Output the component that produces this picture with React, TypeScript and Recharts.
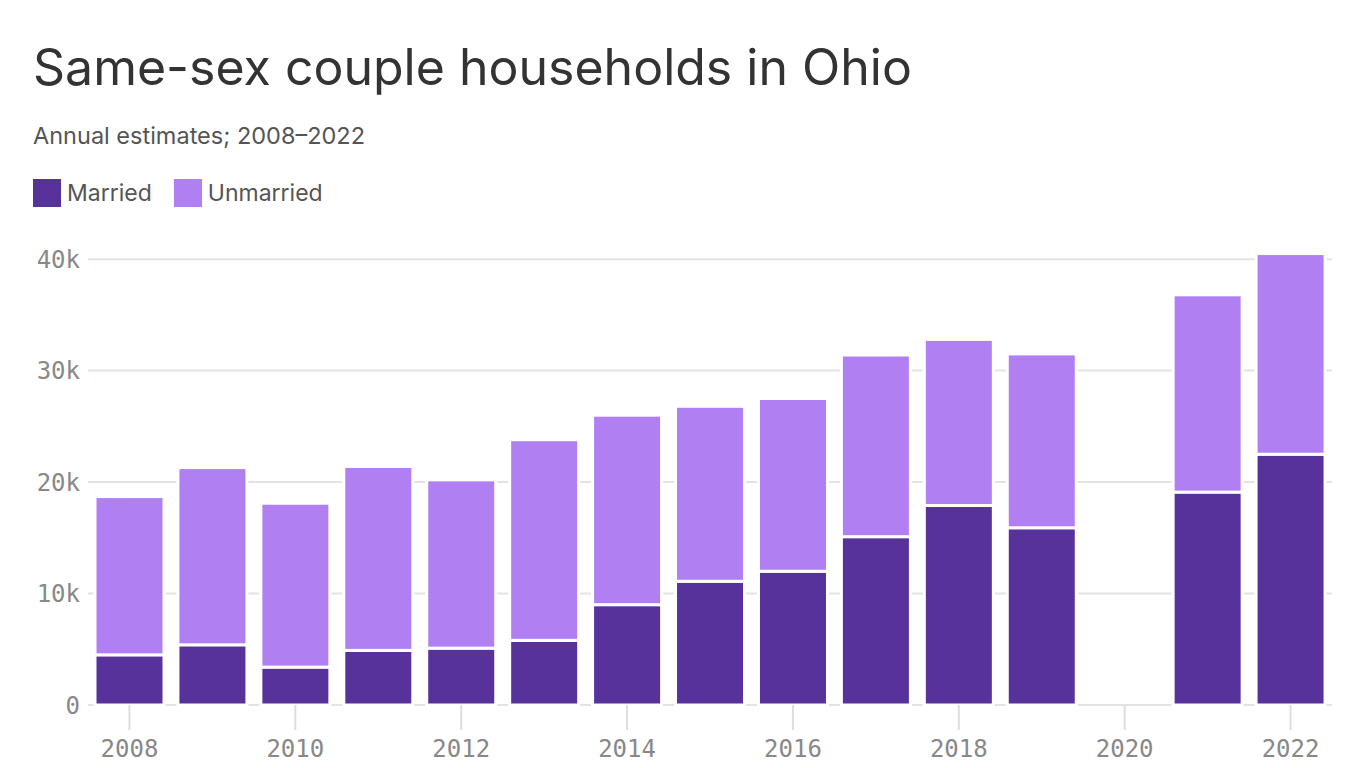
import React from "react"
import { BarChart, Bar, XAxis, YAxis, CartesianGrid } from "recharts"

const years = [
  "2008", "2009", "2010", "2011", "2012", "2013", "2014", "2015",
  "2016", "2017", "2018", "2019", "2020", "2021", "2022",
]
const married = [4500, 5400, 3400, 4900, 5100, 5800, 9000, 11100, 12000, 15100, 17900, 15900, null, 19100, 22500]
const unmarried = [14200, 15900, 14700, 16500, 15100, 18000, 17000, 15700, 15500, 16300, 14900, 15600, null, 17700, 18000]
const yTicks = [0, 10000, 20000, 30000, 40000]

const MARRIED = "#56329a"
const UNMARRIED = "#b080f2"
const SANS = "Inter, 'Noto Sans', sans-serif"
const MONO = "'DejaVu Sans Mono', monospace"

const data = years.map((y, i) => ({ year: y, married: married[i], unmarried: unmarried[i] }))

function fmtK(v: number) {
  return v === 0 ? "0" : `${v / 1000}k`
}

function BarShape(props: any) {
  const { x, y, width, height, fill } = props
  if (!height || height <= 0) return null
  return <rect x={x} y={y} width={width} height={height} fill={fill} stroke="#fff" strokeWidth={3} />
}

function LegendItem({ color, label }: { color: string; label: string }) {
  return (
    <div style={{ display: "flex", alignItems: "center", marginRight: 22 }}>
      <div style={{ width: 28, height: 28, background: color, marginRight: 6 }} />
      <span style={{ fontSize: 23, color: "#555" }}>{label}</span>
    </div>
  )
}

export default function App() {
  return (
    <div
      style={{
        position: "absolute",
        left: 0,
        top: 0,
        width: 1366,
        height: 768,
        background: "#fff",
        fontFamily: SANS,
      }}
    >
      <div style={{ position: "absolute", left: 33, top: 42, fontSize: 50, lineHeight: "50px", color: "#333" }}>
        Same-sex couple households in Ohio
      </div>
      <div style={{ position: "absolute", left: 33, top: 124, fontSize: 23.5, lineHeight: "24px", color: "#555" }}>
        Annual estimates; 2008–2022
      </div>
      <div style={{ position: "absolute", left: 33, top: 179, display: "flex" }}>
        <LegendItem color={MARRIED} label="Married" />
        <LegendItem color={UNMARRIED} label="Unmarried" />
      </div>
      <div style={{ position: "absolute", left: 0, top: 0 }}>
        <BarChart
          width={1366}
          height={768}
          data={data}
          margin={{ top: 248, right: 34, bottom: 8, left: 0 }}
          barCategoryGap={7}
        >
          <CartesianGrid vertical={false} stroke="#e3e3e3" strokeWidth={2} horizontalValues={yTicks} />
          <XAxis
            dataKey="year"
            height={55}
            interval={1}
            axisLine={false}
            tickSize={25}
            tickLine={{ stroke: "#ddd", strokeWidth: 2 }}
            tickMargin={10}
            tick={{ fontFamily: MONO, fontSize: 24, fill: "#888" }}
          />
          <YAxis
            width={88}
            domain={[0, 41000]}
            ticks={yTicks}
            tickFormatter={fmtK}
            axisLine={false}
            tickLine={false}
            tickSize={0}
            tickMargin={8}
            tick={{ fontFamily: MONO, fontSize: 24, fill: "#888" }}
          />
          <Bar dataKey="married" stackId="a" fill={MARRIED} shape={<BarShape />} isAnimationActive={false} />
          <Bar dataKey="unmarried" stackId="a" fill={UNMARRIED} shape={<BarShape />} isAnimationActive={false} />
        </BarChart>
      </div>
    </div>
  )
}
